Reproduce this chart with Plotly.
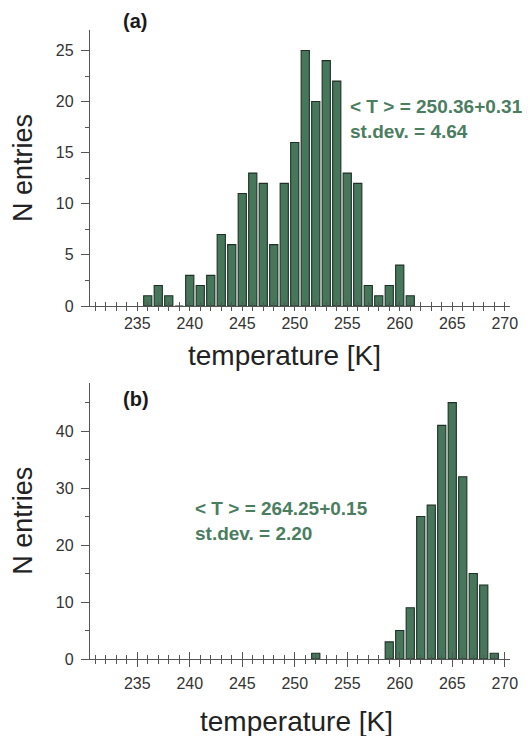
import plotly.graph_objects as go

# Panel (a) histogram
temp_a = [236, 237, 238, 239, 240, 241, 242, 243, 244, 245, 246, 247, 248, 249,
          250, 251, 252, 253, 254, 255, 256, 257, 258, 259, 260, 261]
count_a = [1, 2, 1, 0, 3, 2, 3, 7, 6, 11, 13, 12, 6, 12,
           16, 25, 20, 24, 22, 13, 12, 2, 1, 2, 4, 1]

# Panel (b) histogram
temp_b = [252, 259, 260, 261, 262, 263, 264, 265, 266, 267, 268, 269]
count_b = [1, 3, 5, 9, 25, 27, 41, 45, 32, 15, 13, 1]

x_ticks = [235, 240, 245, 250, 255, 260, 265, 270]
x_title = "temperature [K]"
y_title = "N entries"
text_a = "< T > = 250.36+0.31<br>st.dev. = 4.64"
text_b = "< T > = 264.25+0.15<br>st.dev. = 2.20"

FILL = "#46775a"
EDGE = "#1f2f26"
TXT_GREEN = "#4b7d5f"
AX = "#555555"
FONT = "Liberation Sans, Arial, sans-serif"

fig = go.Figure()
fig.add_trace(go.Bar(x=temp_a, y=count_a, xaxis="x", yaxis="y",
                     marker=dict(color=FILL, line=dict(color=EDGE, width=1.1)),
                     showlegend=False))
fig.add_trace(go.Bar(x=temp_b, y=count_b, xaxis="x2", yaxis="y2",
                     marker=dict(color=FILL, line=dict(color=EDGE, width=1.1)),
                     showlegend=False))

xr = [230.5, 270.5]
dom_a = [0.5612, 1.0]
dom_b = [0.0, 0.4393]

def xaxis_main(anchor, major_len):
    return dict(
        anchor=anchor, range=xr, tickmode="array", tickvals=x_ticks,
        ticks="outside", ticklen=major_len, tickwidth=1.2, tickcolor=AX,
        minor=dict(ticks="outside", dtick=1, tick0=230, ticklen=4, tickwidth=1, tickcolor=AX),
        showline=True, linecolor=AX, linewidth=1.3,
        showgrid=False, zeroline=False, automargin=False,
        tickfont=dict(family=FONT, size=16, color="#333333"),
        ticklabelstandoff=3,
    )

def xaxis_over(over, anchor, major_len):
    return dict(
        overlaying=over, anchor=anchor, range=xr, tickmode="array", tickvals=x_ticks,
        ticks="inside", ticklen=major_len, tickwidth=1.2, tickcolor=AX,
        minor=dict(ticks="inside", dtick=1, tick0=230, ticklen=4, tickwidth=1, tickcolor=AX),
        showline=False, showgrid=False, zeroline=False, showticklabels=False,
        automargin=False,
    )

def yaxis(domain, anchor, rng, dtick, minor):
    return dict(
        domain=domain, anchor=anchor, range=rng, dtick=dtick, tick0=0,
        ticks="outside", ticklen=8, tickwidth=1.2, tickcolor=AX,
        minor=dict(ticks="outside", dtick=minor, ticklen=4, tickwidth=1, tickcolor=AX),
        showline=True, linecolor=AX, linewidth=1.3,
        showgrid=False, zeroline=False, automargin=False,
        tickfont=dict(family=FONT, size=16, color="#333333"),
        ticklabelstandoff=4,
        title=dict(text=y_title, standoff=16,
                   font=dict(family=FONT, size=27, color="#222222")),
    )

# page body adds an 8px offset; size the figure to fill the rest of the window
fig.update_layout(
    width=522, height=728,
    margin=dict(l=82, r=20, t=22, b=77),
    paper_bgcolor="white", plot_bgcolor="white",
    bargap=0.22,
    xaxis=xaxis_main("y", 0),
    xaxis3=xaxis_over("x", "y", 0),
    yaxis=yaxis(dom_a, "x", [0, 27], 5, 2.5),
    xaxis2=xaxis_main("y2", 7),
    xaxis4=xaxis_over("x2", "y2", 7),
    yaxis2=yaxis(dom_b, "x2", [0, 48.5], 10, 5),
    annotations=[
        dict(text=x_title, xref="x domain", yref="y domain", x=0.464, y=-0.181,
             xanchor="center", yanchor="middle", showarrow=False,
             font=dict(family=FONT, size=28, color="#222222")),
        dict(text=x_title, xref="x2 domain", yref="y2 domain", x=0.492, y=-0.2244,
             xanchor="center", yanchor="middle", showarrow=False,
             font=dict(family=FONT, size=28, color="#222222")),
        dict(text="<b>(a)</b>", xref="x domain", yref="y domain", x=0.107, y=1.033,
             xanchor="center", yanchor="middle", showarrow=False,
             font=dict(family=FONT, size=20, color="#1a1a1a")),
        dict(text="<b>(b)</b>", xref="x2 domain", yref="y2 domain", x=0.11, y=0.941,
             xanchor="center", yanchor="middle", showarrow=False,
             font=dict(family=FONT, size=20, color="#1a1a1a")),
        dict(text="<b>" + text_a.replace("<br>", "</b><br><b>") + "</b>",
             xref="x domain", yref="y domain", x=0.614, y=0.676,
             xanchor="left", yanchor="middle", align="left", showarrow=False,
             font=dict(family=FONT, size=19, color=TXT_GREEN)),
        dict(text="<b>" + text_b.replace("<br>", "</b><br><b>") + "</b>",
             xref="x2 domain", yref="y2 domain", x=0.2445, y=0.4977,
             xanchor="left", yanchor="middle", align="left", showarrow=False,
             font=dict(family=FONT, size=19, color=TXT_GREEN)),
    ],
)

# dummy traces so overlay axes render
fig.add_trace(go.Scatter(x=[None], y=[None], xaxis="x3", yaxis="y", showlegend=False, hoverinfo="skip"))
fig.add_trace(go.Scatter(x=[None], y=[None], xaxis="x4", yaxis="y2", showlegend=False, hoverinfo="skip"))

fig.write_html("out.html")
